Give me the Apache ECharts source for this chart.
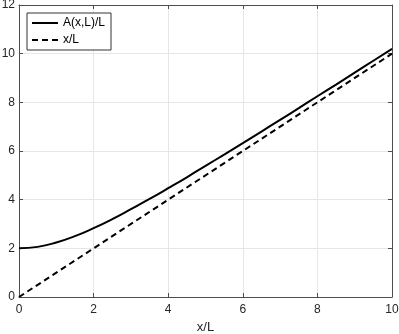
<!DOCTYPE html>
<html>
<head>
<meta charset="utf-8">
<script src="https://cdn.jsdelivr.net/npm/echarts@6/dist/echarts.min.js"></script>
<style>
  html, body { margin: 0; padding: 0; background: #fff; }
  #chart { width: 399px; height: 334px; }
</style>
</head>
<body>
<div id="chart"></div>
<script>
// x/L positions and values
var xVals = [0, 0.5, 1, 1.5, 2, 2.5, 3, 3.5, 4, 4.5, 5, 5.5, 6, 6.5, 7, 7.5, 8, 8.5, 9, 9.5, 10];
var aVals = [2.00, 2.06, 2.24, 2.50, 2.83, 3.20, 3.61, 4.03, 4.47, 4.92, 5.39, 5.85, 6.32, 6.80, 7.28, 7.76, 8.25, 8.73, 9.22, 9.71, 10.20];
var lineX = [0, 10];
var lineY = [0, 10];
var xTicks = [0, 2, 4, 6, 8, 10];
var yTicks = [0, 2, 4, 6, 8, 10, 12];

var font = 'Liberation Sans';
var axisColor = '#4d4d4d';

function pairs(xs, ys) {
	return xs.map(function(x, i) {
		return [x, ys[i]];
	});
}

var chart = echarts.init(document.getElementById('chart'));

function baseAxis(extra) {
	var ax = {
		type : 'value',
		axisLine : { show : true, onZero : false, lineStyle : { color : axisColor, width : 1 } },
		axisTick : { show : true, inside : true, length : 4, lineStyle : { color : axisColor } },
		axisLabel : { color : '#262626', fontSize : 12, fontFamily : font },
		splitLine : { show : true, lineStyle : { color : '#e6e6e6', width : 1 } }
	};
	return Object.assign(ax, extra);
}

var option = {
	animation : false,
	textStyle : { fontFamily : font },
	grid : { left : 19, right : 7, top : 5, bottom : 37, containLabel : false, outerBoundsMode : 'none' },
	legend : {
		orient : 'vertical',
		left : 27,
		top : 13,
		padding : [4, 6, 4, 4],
		itemGap : 5,
		itemWidth : 26,
		itemHeight : 8,
		itemStyle : { opacity : 0 },
		borderColor : '#333',
		borderWidth : 1,
		backgroundColor : '#fff',
		textStyle : { color : '#000', fontSize : 12, fontFamily : font },
		data : ['A(x,L)/L', 'x/L']
	},
	xAxis : [
		baseAxis({
			min : 0, max : 10, interval : 2,
			name : 'x/L', nameLocation : 'middle', nameGap : 22,
			nameTextStyle : { color : '#262626', fontSize : 13, fontFamily : font },
			axisLabel : {
				color : '#262626', fontSize : 12, fontFamily : font, margin : 7,
				formatter : function(v) { return xTicks.indexOf(v) >= 0 ? String(v) : ''; }
			}
		}),
		baseAxis({
			min : 0, max : 10, interval : 2, position : 'top',
			axisLabel : { show : false }, splitLine : { show : false }
		})
	],
	yAxis : [
		baseAxis({
			min : 0, max : 12, interval : 2,
			axisLabel : {
				color : '#262626', fontSize : 12, fontFamily : font, margin : 4,
				formatter : function(v) { return yTicks.indexOf(v) >= 0 ? String(v) : ''; }
			}
		}),
		baseAxis({
			min : 0, max : 12, interval : 2, position : 'right',
			axisLabel : { show : false }, splitLine : { show : false }
		})
	],
	series : [ {
		name : 'A(x,L)/L',
		type : 'line',
		smooth : true,
		symbol : 'none',
		color : '#000',
		lineStyle : { color : '#000', width : 2 },
		data : pairs(xVals, aVals)
	}, {
		name : 'x/L',
		type : 'line',
		symbol : 'none',
		color : '#000',
		lineStyle : { color : '#000', width : 2, type : [6, 4] },
		data : pairs(lineX, lineY)
	} ]
};

chart.setOption(option);
</script>
</body>
</html>
